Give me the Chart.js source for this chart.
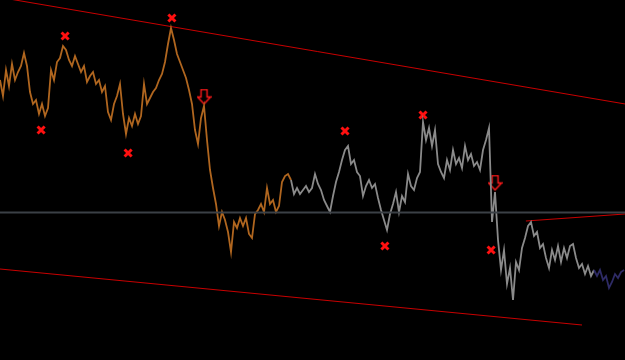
<!DOCTYPE html>
<html>
<head>
<meta charset="utf-8">
<script src="https://cdn.jsdelivr.net/npm/chart.js@4"></script>
<style>
  html, body { margin: 0; padding: 0; background: #000; }
  #wrap { width: 625px; height: 360px; }
</style>
</head>
<body>
<div id="wrap"><canvas id="chart" width="625" height="360"></canvas></div>
<script>
// price closes, one per bar
const closes = [
  1320, 1304, 1330, 1314, 1336, 1320, 1328, 1334, 1347, 1334,
  1308, 1296, 1300, 1286, 1296, 1284, 1292, 1330, 1320, 1338,
  1342, 1354, 1350, 1340, 1334, 1344, 1336, 1328, 1334, 1318,
  1324, 1328, 1316, 1320, 1308, 1314, 1288, 1280, 1296, 1304,
  1316, 1286, 1266, 1282, 1274, 1286, 1276, 1284, 1316, 1296,
  1302, 1308, 1312, 1320, 1326, 1338, 1356, 1372, 1360, 1346,
  1338, 1330, 1322, 1310, 1296, 1270, 1256, 1282, 1294, 1260,
  1230, 1212, 1196, 1174, 1188, 1180, 1168, 1148, 1178, 1172,
  1182, 1174, 1182, 1166, 1162, 1186, 1190, 1196, 1188, 1212,
  1196, 1200, 1188, 1194, 1218, 1224, 1226, 1220, 1206, 1212,
  1206, 1210, 1214, 1208, 1212, 1226, 1216, 1210, 1200, 1194,
  1188, 1204, 1218, 1228, 1240, 1250, 1254, 1236, 1240, 1228,
  1224, 1204, 1214, 1220, 1212, 1216, 1202, 1190, 1180, 1170,
  1186, 1196, 1208, 1188, 1204, 1198, 1226, 1214, 1210, 1222,
  1228, 1278, 1260, 1272, 1254, 1270, 1236, 1228, 1222, 1240,
  1230, 1250, 1236, 1242, 1232, 1254, 1240, 1246, 1234, 1238,
  1230, 1250, 1260, 1272, 1178, 1208, 1160, 1130, 1150, 1116,
  1132, 1100, 1138, 1130, 1152, 1162, 1174, 1178, 1164, 1168,
  1152, 1156, 1142, 1132, 1150, 1140, 1154, 1138, 1152, 1142,
  1154, 1156, 1142, 1132, 1136, 1126, 1134, 1124, 1130, 1124,
  1130, 1120, 1124, 1112, 1118, 1126, 1122, 1128, 1130
];

// bar index where the line colour changes
const grayFrom = 97;
const navyFrom = 198;

// swing points (bar, price)
const crossBars = [13.7, 21.7, 42.7, 57.3, 115, 128.3, 141, 163.7];
const crossPrices = [1270, 1364, 1247, 1382, 1269, 1154, 1285, 1150];

// sell signals (bar, price)
const arrowBars = [68, 165];
const arrowPrices = [1303, 1217];

// trend lines, [bar, price] pairs
const upperTrend = [[0, 1402.6], [208.4, 1296]];
const lowerTrend = [[0, 1131], [194, 1075]];
const shortTrend = [[175.3, 1179], [208.4, 1186]];
const levelPrice = 1187.5;

const minPrice = 1040;
const maxPrice = 1400;
const lastBar = 208.33;

const toXY = (xs, ys) => xs.map((x, i) => ({ x, y: ys[i] }));
const pairXY = pts => pts.map(p => ({ x: p[0], y: p[1] }));

// hollow down arrow
function makeArrow() {
  const c = document.createElement('canvas');
  c.width = 15;
  c.height = 17;
  const g = c.getContext('2d');
  g.strokeStyle = '#ff1a1a';
  g.lineWidth = 1.4;
  g.beginPath();
  g.moveTo(4.5, 1);
  g.lineTo(10.5, 1);
  g.lineTo(10.5, 8.5);
  g.lineTo(14, 8.5);
  g.lineTo(7.5, 15.5);
  g.lineTo(1, 8.5);
  g.lineTo(4.5, 8.5);
  g.closePath();
  g.stroke();
  return c;
}

const colorFor = i => i < grayFrom ? '#b0661f' : (i < navyFrom ? '#8a8a8a' : '#2e2b66');

new Chart(document.getElementById('chart'), {
  type: 'line',
  data: {
    datasets: [
      {
        data: [{ x: 0, y: levelPrice }, { x: lastBar, y: levelPrice }],
        borderColor: '#3b4046',
        borderWidth: 2,
        pointRadius: 0
      },
      {
        data: closes.map((v, i) => ({ x: i, y: v })),
        borderWidth: 1.8,
        borderColor: '#b0661f',
        segment: { borderColor: ctx => colorFor(ctx.p0DataIndex) },
        pointRadius: 0,
        tension: 0
      },
      {
        data: pairXY(upperTrend),
        borderColor: '#c80000',
        borderWidth: 1,
        pointRadius: 0
      },
      {
        data: pairXY(lowerTrend),
        borderColor: '#c80000',
        borderWidth: 1,
        pointRadius: 0
      },
      {
        data: pairXY(shortTrend),
        borderColor: '#c80000',
        borderWidth: 1.2,
        pointRadius: 0
      },
      {
        type: 'scatter',
        data: toXY(crossBars, crossPrices),
        pointStyle: 'crossRot',
        pointRadius: 5,
        borderColor: '#ff1010',
        borderWidth: 3
      },
      {
        type: 'scatter',
        data: toXY(arrowBars, arrowPrices),
        pointStyle: makeArrow(),
        pointRadius: 8
      }
    ]
  },
  options: {
    responsive: false,
    animation: false,
    layout: { padding: 0, autoPadding: false },
    plugins: {
      legend: { display: false },
      tooltip: { enabled: false }
    },
    scales: {
      x: { type: 'linear', min: 0, max: lastBar, display: false },
      y: { min: minPrice, max: maxPrice, display: false }
    }
  }
});
</script>
</body>
</html>
